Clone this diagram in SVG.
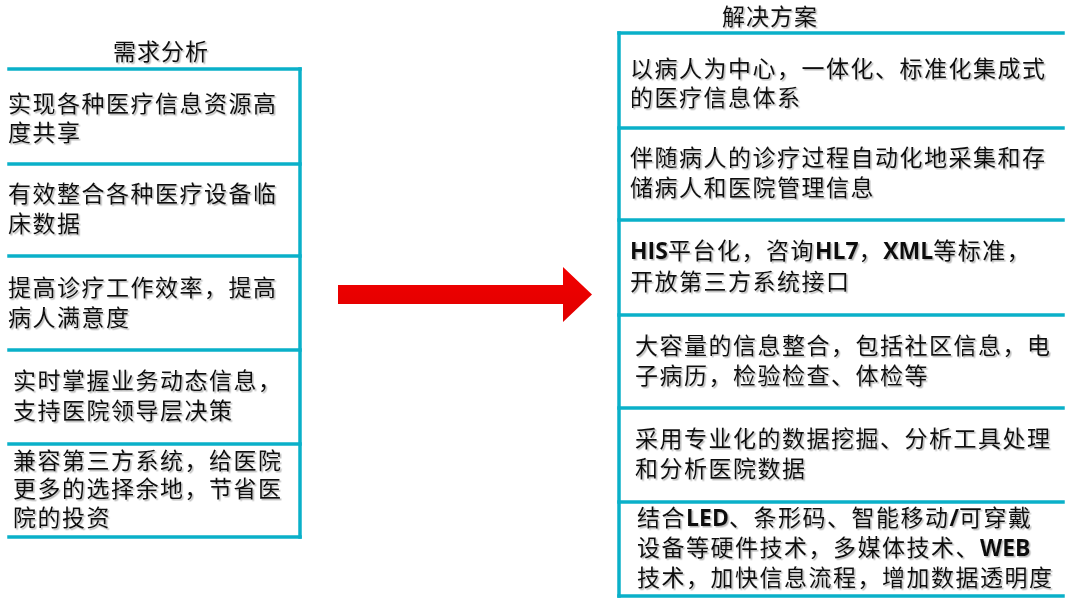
<svg xmlns="http://www.w3.org/2000/svg" width="1070" height="610" viewBox="0 0 1070 610">
<defs>
<filter id="sh" x="-5%" y="-20%" width="110%" height="140%">
<feDropShadow dx="1.5" dy="1.5" stdDeviation="0.7" flood-color="#808080" flood-opacity="0.55"/>
</filter>
<linearGradient id="ag" x1="0" y1="0" x2="0" y2="1">
<stop offset="0" stop-color="#F20000"/>
<stop offset="1" stop-color="#E00000"/>
</linearGradient>
</defs>
<style>
.ln{stroke:#0AB0C9;stroke-width:3.5;fill:none;stroke-linecap:square}
.t{font-family:"Liberation Serif","Noto Sans CJK SC",serif;font-size:23px;letter-spacing:1.5px;fill:#111;filter:url(#sh)}
.ti{font-family:"Liberation Serif","Noto Sans CJK SC",serif;font-size:23px;letter-spacing:1px;fill:#111;filter:url(#sh)}
.b{font-family:"Open Sans","Liberation Sans",sans-serif;font-weight:bold;letter-spacing:0}
</style>
<rect width="1070" height="610" fill="#fff"/>

<g id="left-column">
<text class="ti" x="113" y="60">需求分析</text>
<line class="ln" x1="300" y1="69" x2="300" y2="537"/>
</g>
<g id="need1">
<line class="ln" x1="9" y1="69" x2="300" y2="69"/>
<text class="t" x="8" y="112">实现各种医疗信息资源高</text>
<text class="t" x="8" y="141">度共享</text>
</g>
<g id="need2">
<line class="ln" x1="9" y1="164" x2="300" y2="164"/>
<text class="t" x="8" y="202">有效整合各种医疗设备临</text>
<text class="t" x="8" y="232">床数据</text>
</g>
<g id="need3">
<line class="ln" x1="9" y1="256" x2="300" y2="256"/>
<text class="t" x="8" y="296">提高诊疗工作效率，提高</text>
<text class="t" x="8" y="326">病人满意度</text>
</g>
<g id="need4">
<line class="ln" x1="9" y1="350" x2="300" y2="350"/>
<text class="t" x="13" y="389">实时掌握业务动态信息，</text>
<text class="t" x="13" y="419">支持医院领导层决策</text>
</g>
<g id="need5">
<line class="ln" x1="9" y1="444" x2="300" y2="444"/>
<text class="t" x="13" y="469">兼容第三方系统，给医院</text>
<text class="t" x="13" y="497">更多的选择余地，节省医</text>
<text class="t" x="13" y="526">院的投资</text>
<line class="ln" x1="9" y1="537" x2="300" y2="537"/>
</g>

<g id="connectors">
<polygon points="338,285 563,285 563,267 592,294.5 563,322 563,304 338,304" fill="url(#ag)"/>
</g>

<g id="right-column">
<text class="ti" x="722" y="25">解决方案</text>
<line class="ln" x1="619" y1="33" x2="619" y2="596"/>
</g>
<g id="sol1">
<line class="ln" x1="619" y1="33" x2="1063" y2="33"/>
<text class="t" x="630" y="77">以病人为中心，一体化、标准化集成式</text>
<text class="t" x="630" y="106">的医疗信息体系</text>
</g>
<g id="sol2">
<line class="ln" x1="619" y1="128" x2="1063" y2="128"/>
<text class="t" x="630" y="166">伴随病人的诊疗过程自动化地采集和存</text>
<text class="t" x="630" y="196">储病人和医院管理信息</text>
</g>
<g id="sol3">
<line class="ln" x1="619" y1="220" x2="1063" y2="220"/>
<text class="t" x="630" y="259"><tspan class="b">HIS</tspan>平台化，咨询<tspan class="b">HL7</tspan>，<tspan class="b">XML</tspan>等标准，</text>
<text class="t" x="630" y="290">开放第三方系统接口</text>
</g>
<g id="sol4">
<line class="ln" x1="619" y1="315" x2="1063" y2="315"/>
<text class="t" x="635" y="354">大容量的信息整合，包括社区信息，电</text>
<text class="t" x="635" y="384">子病历，检验检查、体检等</text>
</g>
<g id="sol5">
<line class="ln" x1="619" y1="408" x2="1063" y2="408"/>
<text class="t" x="635" y="447">采用专业化的数据挖掘、分析工具处理</text>
<text class="t" x="635" y="477">和分析医院数据</text>
</g>
<g id="sol6">
<line class="ln" x1="619" y1="502" x2="1063" y2="502"/>
<text class="t" x="637" y="526">结合<tspan class="b">LED</tspan>、条形码、智能移动<tspan class="b">/</tspan>可穿戴</text>
<text class="t" x="637" y="556">设备等硬件技术，多媒体技术、<tspan class="b">WEB</tspan></text>
<text class="t" x="637" y="586">技术，加快信息流程，增加数据透明度</text>
<line class="ln" x1="619" y1="596" x2="1063" y2="596"/>
</g>
</svg>
